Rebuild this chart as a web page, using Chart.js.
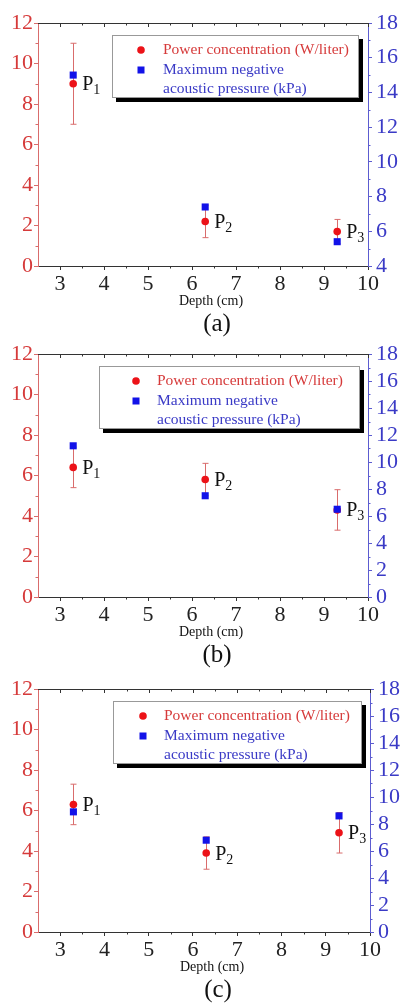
<!DOCTYPE html>
<html>
<head>
<meta charset="utf-8">
<title>Power concentration and acoustic pressure vs depth</title>
<script src="https://cdn.jsdelivr.net/npm/chart.js@4.4.1/dist/chart.umd.min.js"></script>
<style>
  body { margin: 0; background: #fff; }
  #wrap { position: relative; width: 401px; height: 1004px; overflow: hidden; }
  canvas { position: absolute; left: 0; display: block; }
</style>
</head>
<body>
<div id="wrap">
<canvas id="chartA" width="401" height="345" style="top:0px"></canvas>
<canvas id="chartB" width="401" height="345" style="top:331px"></canvas>
<canvas id="chartC" width="401" height="338" style="top:666px"></canvas>
</div>
<script>
// measurement depths (cm) and axis ticks
const depth = [3.3, 6.3, 9.3];
const depthTicks = [3, 4, 5, 6, 7, 8, 9, 10];
const powerTicks = [0, 2, 4, 6, 8, 10, 12];
const pressureTicksA = [4, 6, 8, 10, 12, 14, 16, 18];
const pressureTicks = [0, 2, 4, 6, 8, 10, 12, 14, 16, 18];
const pointNames = ['1', '2', '3'];

// (a)
const powerA = [9.0, 2.2, 1.7];
const powerErrA = [2.0, 0.8, 0.6];
const pressureA = [15.0, 7.4, 5.4];
// (b)
const powerB = [6.4, 5.8, 4.3];
const powerErrB = [1.0, 0.8, 1.0];
const pressureB = [11.2, 7.5, 6.5];
// (c)
const powerC = [6.3, 3.9, 4.9];
const powerErrC = [1.0, 0.8, 1.0];
const pressureC = [8.9, 6.8, 8.6];

const SERIF = "'Liberation Serif', 'Times New Roman', serif";
const RED = '#ec1218';
const BLUE = '#1212e8';
const RED_AXIS = '#d96c6c';
const BLUE_AXIS = '#5c5cd0';
const RED_TEXT = '#d63a3a';
const BLUE_TEXT = '#3a3ac6';
const DARK = '#333';

const TOP_PAD = 23;
const PLOT_H = 243;

Chart.defaults.font.family = SERIF;

function minorTicks(major) {
  const out = [];
  for (let i = 0; i < major.length - 1; i++) out.push((major[i] + major[i + 1]) / 2);
  return out;
}

// axis frame extras, error bars, point names, legend box and captions
const decor = {
  id: 'decor',
  beforeDatasetsDraw(chart) {
    const ctx = chart.ctx;
    const p = chart.options.plugins.decor;
    const meta = chart.getDatasetMeta(1);
    const ys = chart.scales.y;
    ctx.save();
    ctx.strokeStyle = RED_AXIS;
    ctx.lineWidth = 1;
    p.power.forEach((v, i) => {
      const x = Math.round(meta.data[i].x) + 0.5;
      const y1 = ys.getPixelForValue(v + p.err[i]);
      const y2 = ys.getPixelForValue(v - p.err[i]);
      ctx.beginPath();
      ctx.moveTo(x, y1); ctx.lineTo(x, y2);
      ctx.moveTo(x - 3, y1); ctx.lineTo(x + 3, y1);
      ctx.moveTo(x - 3, y2); ctx.lineTo(x + 3, y2);
      ctx.stroke();
    });
    ctx.restore();
  },
  afterDraw(chart) {
    const ctx = chart.ctx;
    const p = chart.options.plugins.decor;
    const a = chart.chartArea;
    const xs = chart.scales.x, ys = chart.scales.y, ys1 = chart.scales.y1;
    ctx.save();
    ctx.lineWidth = 1;

    // top frame with inward ticks, minor ticks on the bottom
    ctx.strokeStyle = DARK;
    ctx.beginPath();
    ctx.moveTo(a.left, a.top + 0.5); ctx.lineTo(a.right, a.top + 0.5);
    depthTicks.forEach(v => {
      const x = Math.round(xs.getPixelForValue(v)) + 0.5;
      ctx.moveTo(x, a.top); ctx.lineTo(x, a.top + 4);
    });
    minorTicks([2].concat(depthTicks)).forEach(v => {
      if (v <= 2.5) return;
      const x = Math.round(xs.getPixelForValue(v)) + 0.5;
      ctx.moveTo(x, a.top); ctx.lineTo(x, a.top + 2.5);
      ctx.moveTo(x, a.bottom); ctx.lineTo(x, a.bottom + 2.5);
    });
    ctx.stroke();

    ctx.strokeStyle = RED_AXIS;
    ctx.beginPath();
    minorTicks(powerTicks).forEach(v => {
      const y = Math.round(ys.getPixelForValue(v)) + 0.5;
      ctx.moveTo(a.left, y); ctx.lineTo(a.left - 2.5, y);
    });
    ctx.stroke();

    ctx.strokeStyle = BLUE_AXIS;
    ctx.beginPath();
    minorTicks(p.rightTicks).forEach(v => {
      const y = Math.round(ys1.getPixelForValue(v)) + 0.5;
      ctx.moveTo(a.right, y); ctx.lineTo(a.right + 2.5, y);
    });
    ctx.stroke();

    // P1..P3 names beside the power points
    const meta = chart.getDatasetMeta(1);
    ctx.fillStyle = '#111';
    ctx.textBaseline = 'alphabetic';
    pointNames.forEach((n, i) => {
      const pt = meta.data[i];
      const x = pt.x + 9, y = pt.y + 6.5;
      ctx.font = '20px ' + SERIF;
      ctx.fillText('P', x, y);
      const w = ctx.measureText('P').width;
      ctx.font = '14px ' + SERIF;
      ctx.fillText(n, x + w, y + 4);
    });

    // legend box with drop shadow
    const L = p.legend;
    const top = a.top + 12;
    const h = 63;
    ctx.fillStyle = '#000';
    ctx.fillRect(L.left + 4, top + 4, L.width, h);
    ctx.fillStyle = '#fff';
    ctx.fillRect(L.left, top, L.width, h);
    ctx.strokeStyle = '#999';
    ctx.strokeRect(L.left + 0.5, top + 0.5, L.width - 1, h - 1);

    ctx.fillStyle = RED;
    ctx.beginPath();
    ctx.arc(L.left + L.marker, top + 15, 3.8, 0, Math.PI * 2);
    ctx.fill();
    ctx.fillStyle = BLUE;
    ctx.fillRect(L.left + L.marker - 3.5, top + 35 - 3.5, 7, 7);

    ctx.font = '15.5px ' + SERIF;
    ctx.textBaseline = 'middle';
    ctx.fillStyle = RED_TEXT;
    ctx.fillText('Power concentration (W/liter)', L.left + L.text, top + 15);
    ctx.fillStyle = BLUE_TEXT;
    ctx.fillText('Maximum negative', L.left + L.text, top + 35);
    ctx.fillText('acoustic pressure (kPa)', L.left + L.text, top + 54);

    // axis caption and panel letter
    const cx = (a.left + a.right) / 2;
    ctx.fillStyle = '#111';
    ctx.textAlign = 'center';
    ctx.font = '14px ' + SERIF;
    ctx.fillText('Depth (cm)', cx + 8, a.bottom + 35);
    ctx.font = '25px ' + SERIF;
    ctx.fillText(p.letter, cx + 14, a.bottom + 58);
    ctx.restore();
  }
};

function makeChart(id, cfg) {
  const canvas = document.getElementById(id);
  const H = canvas.height;
  const tickFont = { family: SERIF, size: 22 };
  return new Chart(canvas, {
    type: 'scatter',
    data: {
      datasets: [
        {
          label: 'Maximum negative acoustic pressure (kPa)',
          data: depth.map((x, i) => ({ x: x, y: cfg.pressure[i] })),
          yAxisID: 'y1',
          pointStyle: 'rect',
          pointRadius: 5,
          pointHoverRadius: 5,
          backgroundColor: BLUE,
          borderColor: BLUE,
          borderWidth: 0,
          order: 0
        },
        {
          label: 'Power concentration (W/liter)',
          data: depth.map((x, i) => ({ x: x, y: cfg.power[i] })),
          yAxisID: 'y',
          pointStyle: 'circle',
          pointRadius: 3.8,
          pointHoverRadius: 3.8,
          backgroundColor: RED,
          borderColor: RED,
          borderWidth: 0,
          order: 1
        }
      ]
    },
    options: {
      responsive: false,
      animation: false,
      devicePixelRatio: 1,
      layout: { padding: { top: TOP_PAD, left: 0, right: 0, bottom: 0 } },
      scales: {
        x: {
          type: 'linear',
          min: 2.5,
          max: 10,
          afterBuildTicks: s => { s.ticks = depthTicks.map(v => ({ value: v })); },
          afterFit: s => { s.height = H - TOP_PAD - PLOT_H; },
          ticks: { color: '#222', padding: 1, autoSkip: false, maxRotation: 0, font: tickFont },
          grid: { display: true, drawOnChartArea: false, drawTicks: true, tickLength: 4, color: DARK },
          border: { display: true, color: DARK, width: 1 }
        },
        y: {
          position: 'left',
          min: 0,
          max: 12,
          afterBuildTicks: s => { s.ticks = powerTicks.map(v => ({ value: v })); },
          afterFit: s => { s.width = 38; },
          ticks: { color: RED_TEXT, padding: 1, autoSkip: false, font: tickFont },
          grid: { display: true, drawOnChartArea: false, drawTicks: true, tickLength: 4, color: RED_AXIS },
          border: { display: true, color: RED_AXIS, width: 1 }
        },
        y1: {
          position: 'right',
          min: cfg.rightTicks[0],
          max: 18,
          afterBuildTicks: s => { s.ticks = cfg.rightTicks.map(v => ({ value: v })); },
          afterFit: s => { s.width = cfg.rightWidth; },
          ticks: { color: BLUE_TEXT, padding: 4, autoSkip: false, font: tickFont },
          grid: { display: true, drawOnChartArea: false, drawTicks: true, tickLength: 4, color: BLUE_AXIS },
          border: { display: true, color: BLUE_AXIS, width: 1 }
        }
      },
      plugins: {
        legend: { display: false },
        tooltip: { enabled: false },
        decor: {
          power: cfg.power,
          err: cfg.err,
          rightTicks: cfg.rightTicks,
          legend: cfg.legend,
          letter: cfg.letter
        }
      }
    },
    plugins: [decor]
  });
}

makeChart('chartA', {
  power: powerA, err: powerErrA, pressure: pressureA,
  rightTicks: pressureTicksA, rightWidth: 33, letter: '(a)',
  legend: { left: 112, width: 247, marker: 29, text: 51 }
});
makeChart('chartB', {
  power: powerB, err: powerErrB, pressure: pressureB,
  rightTicks: pressureTicks, rightWidth: 33, letter: '(b)',
  legend: { left: 99, width: 261, marker: 37, text: 58 }
});
makeChart('chartC', {
  power: powerC, err: powerErrC, pressure: pressureC,
  rightTicks: pressureTicks, rightWidth: 31, letter: '(c)',
  legend: { left: 113, width: 249, marker: 30, text: 51 }
});
</script>
</body>
</html>
